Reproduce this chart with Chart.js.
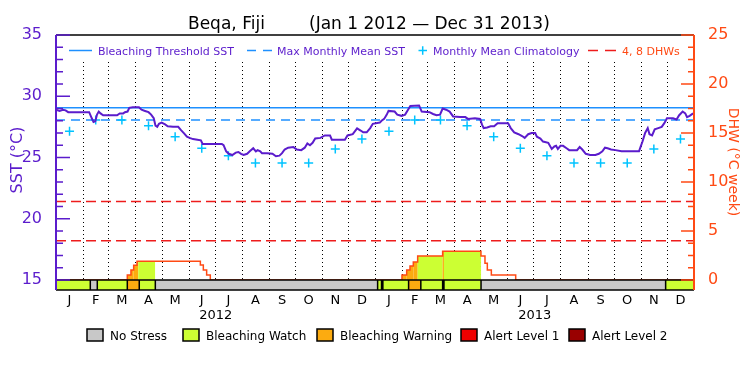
<!DOCTYPE html>
<html>
<head>
<meta charset="utf-8">
<script src="https://cdn.jsdelivr.net/npm/chart.js@4.4.0/dist/chart.umd.min.js"></script>
<style>
  html, body { margin: 0; padding: 0; background: #fff; }
  #wrap { width: 750px; height: 375px; }
</style>
</head>
<body>
<div id="wrap"><canvas id="bleachChart" width="750" height="375"></canvas></div>
<script>
// ============== DATA ==============

// x axis is days since Jan 1 2012
const monthLetters = ['J', 'F', 'M', 'A', 'M', 'J', 'J', 'A', 'S', 'O', 'N', 'D'];
const monthLengths = [31, 29, 31, 30, 31, 30, 31, 31, 30, 31, 30, 31,
                      31, 28, 31, 30, 31, 30, 31, 31, 30, 31, 30, 31];
const yearLabels = ['2012', '2013'];

// SST tick labels (left) and DHW tick labels (right)
const sstTicks = [15, 20, 25, 30, 35];
const dhwTicks = [0, 5, 10, 15, 20, 25];

// Satellite SST
const sstDays = [0, 4, 8, 11, 14, 25, 38, 41, 43, 45, 47, 49, 51, 54, 62, 70, 73, 77, 79, 82,
  84, 88, 95, 98, 102, 106, 109, 112, 114, 116, 118, 121, 125, 128, 134, 140, 143, 147, 150, 153,
  157, 162, 166, 168, 176, 190, 192, 195, 198, 202, 206, 209, 212, 215, 219, 222, 226, 229, 231, 234,
  236, 242, 248, 252, 256, 259, 262, 266, 272, 276, 281, 285, 288, 291, 294, 297, 303, 308, 314, 316,
  331, 334, 340, 345, 349, 352, 356, 360, 363, 371,
  373, 376, 379, 381, 388, 391, 396, 400, 403, 406, 416, 419, 428, 432, 436, 440, 443, 447, 451, 455,
  463, 469, 472, 480, 486, 488, 490, 494, 498, 502, 506, 518, 521, 525, 530, 534, 537, 541, 545, 549,
  551, 555, 558, 564, 568, 571, 573, 575, 578, 581, 585, 588, 593, 597, 600, 603, 607, 612, 618, 622,
  626, 629, 632, 636, 641, 648, 660, 668, 670, 672, 675, 678, 680, 683, 686, 690, 694, 697, 700, 707,
  711, 714, 718, 721, 723, 726, 730];
const sstVals = [28.9, 28.8, 28.9, 28.85, 28.7, 28.7, 28.7, 28.2, 27.9, 27.95, 28.5, 28.75, 28.6, 28.45, 28.45, 28.45, 28.6, 28.6, 28.7, 28.75,
  29.05, 29.1, 29.1, 28.9, 28.8, 28.7, 28.5, 28.2, 27.6, 27.5, 27.75, 27.85, 27.7, 27.55, 27.5, 27.5, 27.25, 26.95, 26.7, 26.6,
  26.5, 26.45, 26.4, 26.1, 26.1, 26.1, 26.0, 25.5, 25.3, 25.2, 25.4, 25.45, 25.3, 25.2, 25.3, 25.5, 25.75, 25.5, 25.6, 25.5,
  25.35, 25.35, 25.3, 25.1, 25.15, 25.35, 25.65, 25.8, 25.85, 25.65, 25.6, 25.8, 26.15, 26.0, 26.2, 26.55, 26.6, 26.8, 26.8, 26.45,
  26.45, 26.8, 26.9, 27.38, 27.2, 27.05, 27.05, 27.4, 27.75, 27.85,
  28.0, 28.15, 28.5, 28.8, 28.75, 28.5, 28.4, 28.5, 28.85, 29.2, 29.25, 28.75, 28.7, 28.55, 28.45, 28.5, 29.0, 28.9, 28.75, 28.35,
  28.3, 28.3, 28.15, 28.2, 28.15, 27.7, 27.4, 27.45, 27.55, 27.55, 27.8, 27.8, 27.4, 27.05, 26.9, 26.75, 26.6, 26.9, 27.0, 27.0,
  26.7, 26.55, 26.3, 26.2, 25.7, 25.9, 25.95, 25.7, 25.95, 25.95, 25.75, 25.6, 25.6, 25.6, 25.85, 25.65, 25.3, 25.2, 25.2, 25.3,
  25.5, 25.8, 25.75, 25.65, 25.6, 25.5, 25.5, 25.5, 25.9, 26.3, 27.0, 27.4, 26.9, 26.8, 27.3, 27.4, 27.5, 27.8, 28.2, 28.2,
  28.1, 28.45, 28.75, 28.6, 28.3, 28.4, 28.6];

// Monthly mean climatology (Jan..Dec), same for each year
const climVals = [27.15, 28.05, 28.05, 27.6, 26.7, 25.75, 25.15, 24.55, 24.55, 24.55, 25.7, 26.5];

const mmmSst = 28.05;
const thresholdSst = 29.05;
const dhwLevels = [4, 8];

// Degree heating weeks, stepped (value holds until the next day)
const dhwDays = [0, 81.7, 85.9, 89, 92.8, 165.4, 168.8, 172.6, 176.8,
  396.4, 401.8, 405.6, 409.4, 414.4, 443, 486.9, 491.5, 494.2, 498.8, 526.7, 731];
const dhwVals = [0, 0.51, 1.02, 1.5, 1.9, 1.53, 1.02, 0.51, 0,
  0.51, 1.02, 1.43, 1.84, 2.45, 2.93, 2.45, 1.7, 1.02, 0.51, 0, 0];

// Stress level bar: 0 none, 1 watch, 2 warning, 3 alert 1, 4 alert 2
const stressEdges = [0, 39.3, 47.3, 81.7, 95.4, 113.8, 368.5, 373, 374.5, 404, 418, 443, 444.5, 487, 698.5, 731];
const stressLevels = [1, 0, 1, 2, 1, 0, 1, 0, 1, 2, 1, 2, 1, 0, 1];

// Colored fill under the DHW curve
const fillStart = [81.7, 94.3, 396.4, 414.4, 443, 444.5];
const fillEnd = [94.3, 113.5, 414.4, 443, 444.5, 487];
const fillLevels = [2, 1, 2, 1, 2, 1];

const stressNames = ['No Stress', 'Bleaching Watch', 'Bleaching Warning', 'Alert Level 1', 'Alert Level 2'];

// ============== STYLE ==============
const FONT = '"DejaVu Sans", sans-serif';
const PURPLE = '#5b1ccc';
const ORANGE = '#ff4a14';
const BLUE = '#1e90ff';
const CYAN = '#00c3ff';
const RED = '#ee1c1c';
const stressColors = ['#c8c8c8', '#ccff33', '#fcab10', '#ee0000', '#990000'];

const SST_MIN = 14.18;
const SST_MAX = 35;
// DHW axis lines up with SST axis: 1.25 DHW per degree
const DHW_MIN = (SST_MIN - 15) * 1.25;
const DHW_MAX = 25;
const X_MAX = 731;

// month starts / mids
const monthStarts = [];
let acc = 0;
monthLengths.forEach(len => { monthStarts.push(acc); acc += len; });
const monthMids = monthStarts.map((s, i) => s + monthLengths[i] / 2);

const climPoints = monthMids.map((d, i) => ({ x: d, y: climVals[i % 12] }));

// ============== DECORATIONS ==============
const decorPlugin = {
    id: 'decor',
    beforeDatasetsDraw(chart) {
        const { ctx, chartArea: a, scales: { x, y, y2 } } = chart;
        ctx.save();

        // dotted month separators
        ctx.strokeStyle = '#000';
        ctx.lineWidth = 1;
        ctx.setLineDash([1, 3]);
        const yBase = Math.round(y.getPixelForValue(15));
        monthStarts.forEach((s, i) => {
            if (i === 0) return;
            const px = Math.round(x.getPixelForValue(s)) + 0.5;
            ctx.beginPath();
            ctx.moveTo(px, 62);
            ctx.lineTo(px, yBase);
            ctx.stroke();
        });
        ctx.setLineDash([]);

        // stress coloured fill under DHW steps
        const zero = y2.getPixelForValue(0);
        fillStart.forEach((fs, k) => {
            ctx.fillStyle = stressColors[fillLevels[k]];
            for (let i = 0; i < dhwDays.length - 1; i++) {
                const s = Math.max(dhwDays[i], fs);
                const e = Math.min(dhwDays[i + 1], fillEnd[k]);
                if (e <= s || dhwVals[i] <= 0) continue;
                const x0 = x.getPixelForValue(s);
                const x1 = x.getPixelForValue(e);
                const yt = y2.getPixelForValue(dhwVals[i]);
                ctx.fillRect(x0, yt, x1 - x0, zero - yt);
            }
        });
        ctx.restore();
    },
    afterDatasetsDraw(chart) {
        const { ctx, chartArea: a, scales: { x, y, y2 } } = chart;
        ctx.save();

        // stress level bar
        const top = Math.round(y.getPixelForValue(15));
        const bot = Math.round(a.bottom);
        stressLevels.forEach((lv, i) => {
            const x0 = x.getPixelForValue(stressEdges[i]);
            const x1 = x.getPixelForValue(stressEdges[i + 1]);
            ctx.fillStyle = stressColors[lv];
            ctx.fillRect(x0, top, x1 - x0, bot - top);
        });
        ctx.strokeStyle = '#000';
        ctx.lineWidth = 1.5;
        ctx.beginPath();
        ctx.moveTo(a.left, top); ctx.lineTo(a.right, top);
        ctx.moveTo(a.left, bot); ctx.lineTo(a.right, bot);
        stressEdges.forEach((d, i) => {
            if (i === 0 || i === stressEdges.length - 1) return;
            const px = x.getPixelForValue(d);
            ctx.moveTo(px, top); ctx.lineTo(px, bot);
        });
        ctx.stroke();

        // top frame
        ctx.lineWidth = 1.5;
        ctx.beginPath();
        ctx.moveTo(a.left, a.top); ctx.lineTo(a.right, a.top);
        ctx.stroke();

        // left axis + inward ticks
        ctx.strokeStyle = PURPLE;
        ctx.lineWidth = 2;
        ctx.beginPath();
        ctx.moveTo(a.left, a.top); ctx.lineTo(a.left, a.bottom);
        ctx.stroke();
        ctx.lineWidth = 1.5;
        ctx.beginPath();
        for (let v = 15; v <= 35; v++) {
            const py = y.getPixelForValue(v);
            const len = v % 5 === 0 ? 14 : 7;
            ctx.moveTo(a.left, py); ctx.lineTo(a.left + len, py);
        }
        ctx.stroke();

        // right axis + inward ticks
        ctx.strokeStyle = ORANGE;
        ctx.lineWidth = 2;
        ctx.beginPath();
        ctx.moveTo(a.right, a.top); ctx.lineTo(a.right, a.bottom);
        ctx.stroke();
        ctx.lineWidth = 1.5;
        ctx.beginPath();
        for (let k = 0; k <= 20; k++) {
            const py = y2.getPixelForValue(k * 1.25);
            const len = k % 4 === 0 ? 13 : 6;
            ctx.moveTo(a.right, py); ctx.lineTo(a.right - len, py);
        }
        ctx.stroke();
        ctx.restore();
    },
    afterDraw(chart) {
        const { ctx, chartArea: a, scales: { x } } = chart;
        ctx.save();
        ctx.textBaseline = 'alphabetic';

        // title
        ctx.fillStyle = '#000';
        ctx.font = '17px ' + FONT;
        ctx.textAlign = 'left';
        ctx.fillText('Beqa, Fiji', 188, 29);
        ctx.fillText('(Jan 1 2012 \u2014 Dec 31 2013)', 309, 29);

        // month letters and years
        ctx.font = '13px ' + FONT;
        ctx.textAlign = 'center';
        monthMids.forEach((m, i) => {
            ctx.fillText(monthLetters[i % 12], x.getPixelForValue(m), 304);
        });
        yearLabels.forEach((yr, i) => {
            const mid = monthStarts[i * 12] + (i === 0 ? 366 : 365) / 2;
            ctx.fillText(yr, x.getPixelForValue(mid), 319);
        });

        // top legend
        ctx.font = '11px ' + FONT;
        ctx.textAlign = 'left';
        ctx.lineWidth = 1.5;
        ctx.strokeStyle = BLUE;
        ctx.beginPath(); ctx.moveTo(69, 50.5); ctx.lineTo(92, 50.5); ctx.stroke();
        ctx.fillStyle = PURPLE;
        ctx.fillText('Bleaching Threshold SST', 98, 55);
        ctx.beginPath();
        ctx.moveTo(247, 50.5); ctx.lineTo(256, 50.5);
        ctx.moveTo(263, 50.5); ctx.lineTo(272, 50.5);
        ctx.stroke();
        ctx.fillText('Max Monthly Mean SST', 277, 55);
        ctx.strokeStyle = CYAN;
        ctx.beginPath();
        ctx.moveTo(418.5, 50.5); ctx.lineTo(427, 50.5);
        ctx.moveTo(422.7, 46.3); ctx.lineTo(422.7, 54.7);
        ctx.stroke();
        ctx.fillText('Monthly Mean Climatology', 433, 55);
        ctx.strokeStyle = RED;
        ctx.beginPath();
        ctx.moveTo(588, 50.5); ctx.lineTo(598, 50.5);
        ctx.moveTo(605, 50.5); ctx.lineTo(616, 50.5);
        ctx.stroke();
        ctx.fillStyle = ORANGE;
        ctx.fillText('4, 8 DHWs', 622, 55);

        // bottom legend
        const boxX = [87, 183, 317, 461, 569];
        ctx.font = '12px ' + FONT;
        ctx.lineWidth = 1.5;
        ctx.strokeStyle = '#000';
        stressNames.forEach((name, i) => {
            ctx.fillStyle = stressColors[i];
            ctx.fillRect(boxX[i], 329, 16, 12);
            ctx.strokeRect(boxX[i], 329, 16, 12);
            ctx.fillStyle = '#000';
            ctx.fillText(name, boxX[i] + 23, 340);
        });

        // axis titles
        ctx.textAlign = 'center';
        ctx.textBaseline = 'middle';
        ctx.fillStyle = PURPLE;
        ctx.font = '16px ' + FONT;
        ctx.save();
        ctx.translate(18, 160);
        ctx.rotate(-Math.PI / 2);
        ctx.fillText('SST (\u00B0C)', 0, 0);
        ctx.restore();
        ctx.fillStyle = ORANGE;
        ctx.font = '14px ' + FONT;
        ctx.save();
        ctx.translate(733, 162);
        ctx.rotate(Math.PI / 2);
        ctx.fillText('DHW (\u00B0C week)', 0, 0);
        ctx.restore();

        ctx.restore();
    }
};

// ============== CHART ==============
const ctx = document.getElementById('bleachChart').getContext('2d');

new Chart(ctx, {
    type: 'line',
    data: {
        datasets: [
            {
                label: 'SST',
                data: sstDays.map((d, i) => ({ x: d, y: sstVals[i] })),
                yAxisID: 'y',
                borderColor: PURPLE,
                borderWidth: 2,
                pointRadius: 0,
                order: 1
            },
            {
                label: 'Monthly Mean Climatology',
                data: climPoints,
                yAxisID: 'y',
                showLine: false,
                pointStyle: 'cross',
                pointRadius: 4.5,
                borderColor: CYAN,
                backgroundColor: CYAN,
                pointBorderWidth: 1.5,
                order: 2
            },
            {
                label: 'DHW',
                data: dhwDays.map((d, i) => ({ x: d, y: dhwVals[i] })),
                yAxisID: 'y2',
                // value holds until the next point, then steps
                stepped: 'before',
                borderColor: ORANGE,
                borderWidth: 1.5,
                pointRadius: 0,
                order: 3
            },
            {
                label: 'Bleaching Threshold SST',
                data: [{ x: 0, y: thresholdSst }, { x: X_MAX, y: thresholdSst }],
                yAxisID: 'y',
                borderColor: BLUE,
                borderWidth: 1.5,
                pointRadius: 0,
                order: 5
            },
            {
                label: 'Max Monthly Mean SST',
                data: [{ x: 0, y: mmmSst }, { x: X_MAX, y: mmmSst }],
                yAxisID: 'y',
                borderColor: BLUE,
                borderWidth: 1.5,
                borderDash: [9, 6],
                pointRadius: 0,
                order: 5
            },
            ...dhwLevels.map(lv => ({
                label: lv + ' DHW',
                data: [{ x: 0, y: lv }, { x: X_MAX, y: lv }],
                yAxisID: 'y2',
                borderColor: RED,
                borderWidth: 1.5,
                borderDash: [10, 5],
                pointRadius: 0,
                order: 5
            }))
        ]
    },
    options: {
        responsive: false,
        animation: false,
        events: [],
        layout: { padding: { top: 35, left: 0, right: 0, bottom: 0 } },
        plugins: {
            legend: { display: false },
            tooltip: { enabled: false },
            title: { display: false }
        },
        scales: {
            x: {
                type: 'linear',
                min: 0,
                max: X_MAX,
                grid: { display: false },
                border: { display: false },
                ticks: { display: false },
                afterFit: s => { s.height = 85; }
            },
            y: {
                type: 'linear',
                position: 'left',
                min: SST_MIN,
                max: SST_MAX,
                grid: { display: false },
                border: { display: false },
                afterBuildTicks: s => { s.ticks = sstTicks.map(v => ({ value: v })); },
                ticks: {
                    color: PURPLE,
                    font: { family: FONT, size: 16 },
                    padding: 6
                },
                afterFit: s => { s.width = 56; }
            },
            y2: {
                type: 'linear',
                position: 'right',
                min: DHW_MIN,
                max: DHW_MAX,
                grid: { display: false },
                border: { display: false },
                afterBuildTicks: s => { s.ticks = dhwTicks.map(v => ({ value: v })); },
                ticks: {
                    color: ORANGE,
                    font: { family: FONT, size: 16 },
                    padding: 6
                },
                afterFit: s => { s.width = 56; }
            }
        }
    },
    plugins: [decorPlugin]
});
</script>
</body>
</html>
